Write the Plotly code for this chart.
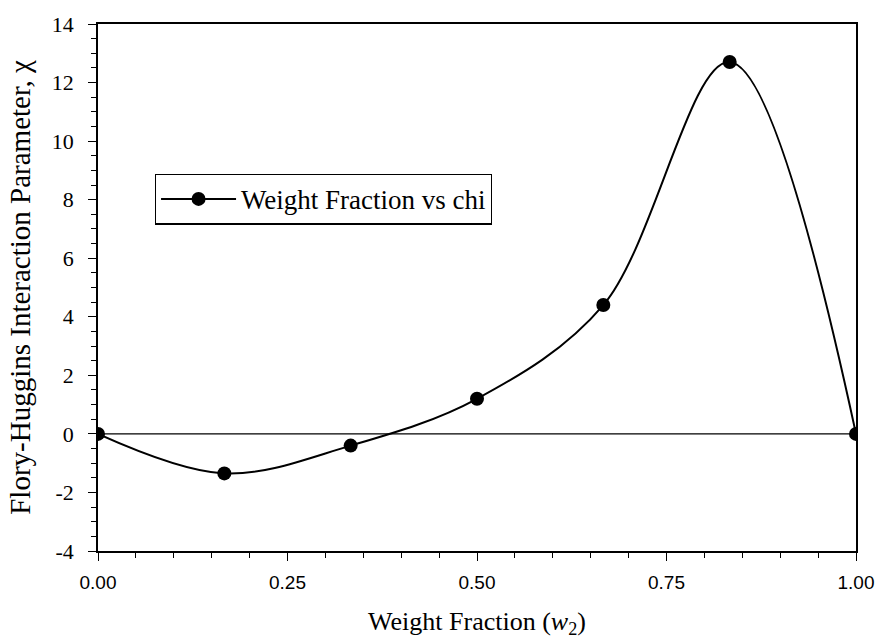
import plotly.graph_objects as go

# Weight fraction of component 2 and the Flory-Huggins chi parameter
weight_fraction = [0.0, 1/6, 1/3, 0.5, 2/3, 5/6, 1.0]
chi = [0.0, -1.35, -0.40, 1.20, 4.40, 12.70, 0.0]

x_ticks = [0.0, 0.25, 0.5, 0.75, 1.0]
x_tick_text = ["0.00", "0.25", "0.50", "0.75", "1.00"]
y_ticks = [-4, -2, 0, 2, 4, 6, 8, 10, 12, 14]
y_tick_text = ["-4", "-2", "0", "2", "4", "6", "8", "10", "12", "14"]

serif = "Liberation Serif, Times New Roman, serif"
sans = "Liberation Sans, Arial, sans-serif"

fig = go.Figure()

# reference line at chi = 0
fig.add_trace(go.Scatter(
    x=[0.0, 1.0], y=[0.0, 0.0], mode="lines",
    line=dict(color="black", width=1.3), showlegend=False, hoverinfo="skip",
))

fig.add_trace(go.Scatter(
    x=weight_fraction, y=chi, mode="lines+markers",
    name="Weight Fraction vs chi",
    line=dict(color="black", width=2, shape="spline", smoothing=1.0),
    marker=dict(color="black", size=14, symbol="circle"),
))

fig.update_layout(
    width=886, height=643,
    margin=dict(l=98, r=25, t=22, b=90),
    paper_bgcolor="white", plot_bgcolor="white",
    font=dict(family=serif, color="black", size=18),
    legend=dict(
        x=0.075, y=0.716, xanchor="left", yanchor="top",
        bordercolor="black", borderwidth=1.2, bgcolor="white",
        font=dict(family=serif, size=27, color="black"),
        itemwidth=75,
    ),
    showlegend=True,
)

fig.update_xaxes(
    range=[0, 1], tickvals=x_ticks, ticktext=x_tick_text,
    showgrid=False, zeroline=False,
    showline=True, linecolor="black", linewidth=1.5, mirror=True,
    ticks="outside", ticklen=8, tickwidth=1.2, tickcolor="black",
    tickfont=dict(family=sans, size=19, color="black"),
    ticklabelstandoff=5,
    minor=dict(dtick=0.05, ticks="outside", ticklen=5, tickwidth=1, tickcolor="black"),
    title=dict(text="Weight Fraction (<i>w</i><sub>2</sub>)",
               font=dict(family=serif, size=26, color="black"), standoff=20),
)

fig.update_yaxes(
    range=[-4, 14], tickvals=y_ticks, ticktext=y_tick_text,
    showgrid=False, zeroline=False,
    showline=True, linecolor="black", linewidth=1.5, mirror=True,
    ticks="outside", ticklen=8, tickwidth=1.2, tickcolor="black",
    tickfont=dict(family=serif, size=22, color="black"),
    ticklabelstandoff=10,
    minor=dict(dtick=0.5, ticks="outside", ticklen=5, tickwidth=1, tickcolor="black"),
    title=dict(text="Flory-Huggins Interaction Parameter, χ",
               font=dict(family=serif, size=29, color="black"), standoff=13),
)

fig.write_html("out.html")
